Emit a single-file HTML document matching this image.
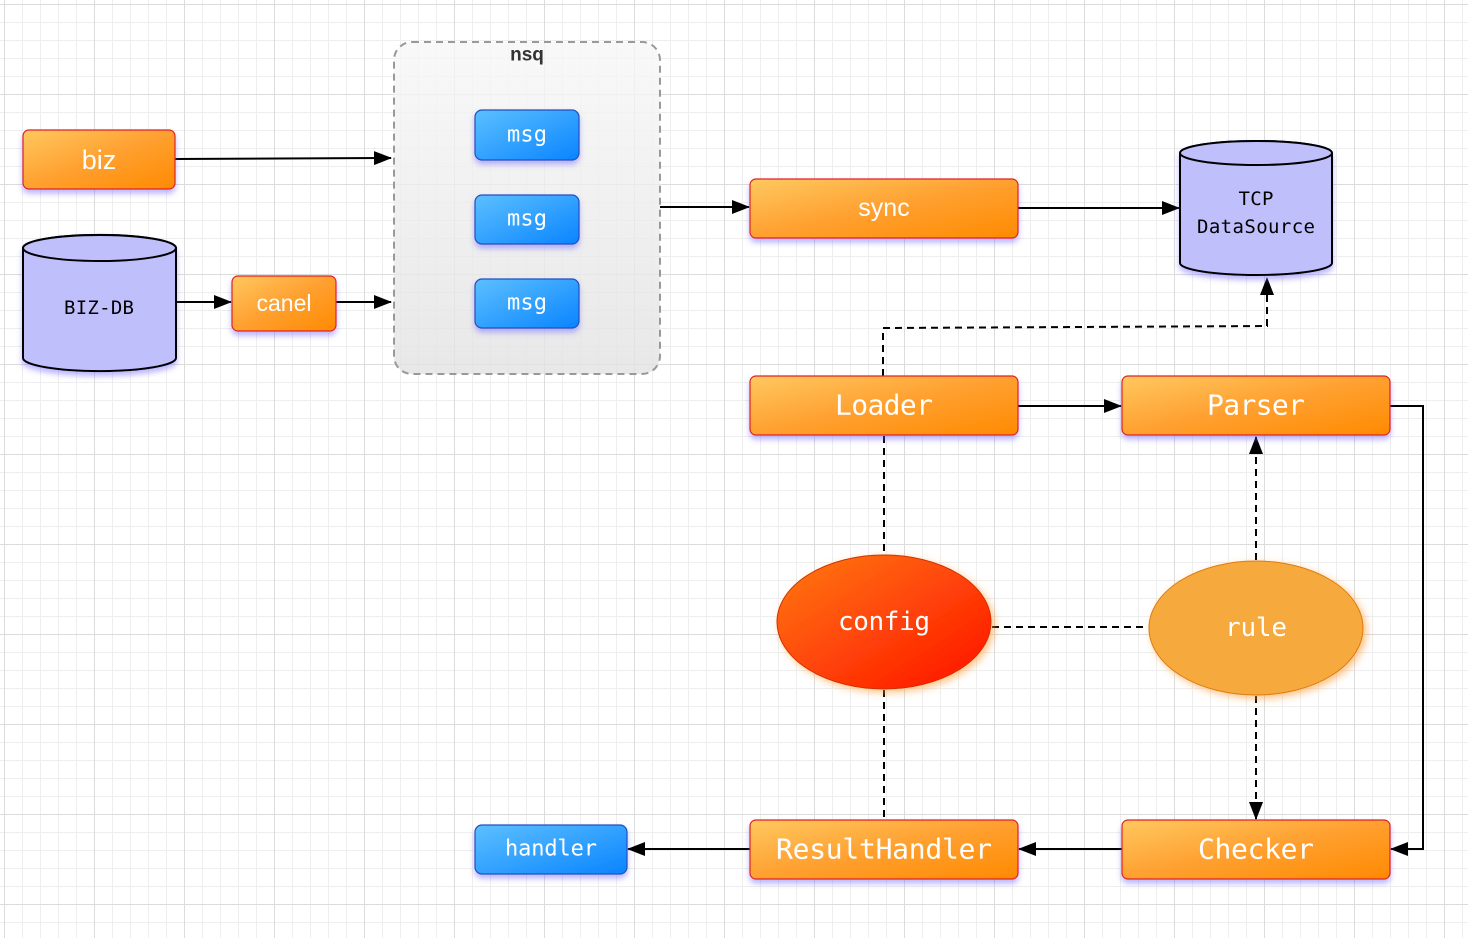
<!DOCTYPE html>
<html><head><meta charset="utf-8"><style>
html,body{margin:0;padding:0;}
body{width:1468px;height:938px;overflow:hidden;background:#fff;
background-image:linear-gradient(#dcdcdc 1px,transparent 1px),linear-gradient(90deg,#dcdcdc 1px,transparent 1px),linear-gradient(#eeeeee 1px,transparent 1px),linear-gradient(90deg,#eeeeee 1px,transparent 1px);
background-size:90px 90px,90px 90px,18px 18px,18px 18px;background-position:4px 4px;}
svg{position:absolute;left:0;top:0;}
.m{font-family:"DejaVu Sans Mono",monospace;fill:#fff;text-anchor:middle;dominant-baseline:central;}
.s{font-family:"Liberation Sans",sans-serif;fill:#fff;text-anchor:middle;dominant-baseline:central;}
</style></head><body>
<svg width="1468" height="938" viewBox="0 0 1468 938">
<defs>
<linearGradient id="og" x1="0" y1="0" x2="1" y2="1"><stop offset="0" stop-color="#ffc860"/><stop offset="0.5" stop-color="#ffa030"/><stop offset="1" stop-color="#ff8a00"/></linearGradient>
<linearGradient id="bg" x1="0" y1="0" x2="1" y2="1"><stop offset="0" stop-color="#5cc0ff"/><stop offset="1" stop-color="#0a84ff"/></linearGradient>
<linearGradient id="rg" x1="0" y1="0" x2="1" y2="1"><stop offset="0" stop-color="#ff7a10"/><stop offset="1" stop-color="#ff1000"/></linearGradient>
<linearGradient id="ng" x1="0" y1="0" x2="0" y2="1"><stop offset="0" stop-color="#f7f7f7" stop-opacity=".8"/><stop offset="1" stop-color="#e2e2e2" stop-opacity=".8"/></linearGradient>
<filter id="sh" x="-20%" y="-20%" width="140%" height="150%"><feDropShadow dx="0" dy="4" stdDeviation="3" flood-color="#6a5cff" flood-opacity=".45"/></filter>
<filter id="gl" x="-20%" y="-20%" width="140%" height="140%"><feDropShadow dx="3" dy="3" stdDeviation="4" flood-color="#ff9a30" flood-opacity=".6"/></filter>
<marker id="a" markerWidth="18" markerHeight="14" refX="17" refY="7" orient="auto" markerUnits="userSpaceOnUse"><path d="M0,0 L18,7 L0,14 z" fill="#000"/></marker>
</defs>
<rect x="394" y="42" width="266" height="332" rx="18" fill="url(#ng)" stroke="#999" stroke-width="2" stroke-dasharray="7,5"/>
<text x="527" y="55" font-family="Liberation Sans,sans-serif" font-weight="bold" font-size="19" fill="#333" text-anchor="middle" dominant-baseline="central">nsq</text>
<g stroke="#000" stroke-width="2" fill="none">
<line x1="175" y1="159" x2="391" y2="158" marker-end="url(#a)"/>
<line x1="176" y1="302" x2="231" y2="302" marker-end="url(#a)"/>
<line x1="336" y1="302" x2="391" y2="302" marker-end="url(#a)"/>
<line x1="660" y1="207" x2="749" y2="207" marker-end="url(#a)"/>
<line x1="1018" y1="208" x2="1179" y2="208" marker-end="url(#a)"/>
<line x1="1018" y1="406" x2="1121" y2="406" marker-end="url(#a)"/>
<polyline points="1390,406 1423,406 1423,849 1391,849" marker-end="url(#a)"/>
<line x1="1122" y1="849" x2="1019" y2="849" marker-end="url(#a)"/>
<line x1="750" y1="849" x2="628" y2="849" marker-end="url(#a)"/>
</g>
<g stroke="#000" stroke-width="2" fill="none" stroke-dasharray="7,5">
<polyline points="883,376 883,328 1267,326 1267,278" marker-end="url(#a)"/>
<line x1="884" y1="436" x2="884" y2="555"/>
<line x1="884" y1="690" x2="884" y2="820"/>
<line x1="992" y1="627" x2="1148" y2="627"/>
<line x1="1256" y1="560" x2="1256" y2="437" marker-end="url(#a)"/>
<line x1="1256" y1="696" x2="1256" y2="819" marker-end="url(#a)"/>
</g>
<g filter="url(#sh)" stroke="#e02020" stroke-width="1.2" fill="url(#og)">
<rect x="23" y="130" width="152" height="59" rx="6"/>
<rect x="232" y="276" width="104" height="55" rx="6"/>
<rect x="750" y="179" width="268" height="59" rx="6"/>
<rect x="750" y="376" width="268" height="59" rx="6"/>
<rect x="1122" y="376" width="268" height="59" rx="6"/>
<rect x="750" y="820" width="268" height="59" rx="6"/>
<rect x="1122" y="820" width="268" height="59" rx="6"/>
</g>
<g filter="url(#sh)" stroke="#2050c0" stroke-width="1.2" fill="url(#bg)">
<rect x="475" y="110" width="104" height="50" rx="7"/>
<rect x="475" y="195" width="104" height="49" rx="7"/>
<rect x="475" y="279" width="104" height="49" rx="7"/>
<rect x="475" y="825" width="152" height="49" rx="7"/>
</g>
<g stroke="#000" stroke-width="2" fill="#bfbffb" filter="url(#sh)">
<path d="M23,248 L23,358 A76,13 0 0 0 176,358 L176,248 A76,13 0 0 0 23,248 Z"/>
<ellipse cx="99.5" cy="248" rx="76.5" ry="13"/>
<path d="M1180,153 L1180,263 A76,12 0 0 0 1332,263 L1332,153 A76,12 0 0 0 1180,153 Z"/>
<ellipse cx="1256" cy="153" rx="76" ry="12"/>
</g>
<ellipse cx="884" cy="622" rx="107" ry="67" fill="url(#rg)" stroke="#d03000" stroke-width="1" filter="url(#gl)"/>
<ellipse cx="1256" cy="628" rx="107" ry="67" fill="#f6aa3c" stroke="#e07a10" stroke-width="1" filter="url(#gl)"/>
<text class="s" x="99" y="160" font-size="27">biz</text>
<text class="s" x="284" y="303" font-size="23">canel</text>
<text class="s" x="884" y="208" font-size="25">sync</text>
<text class="m" x="527" y="135" font-size="22" textLength="40">msg</text>
<text class="m" x="527" y="219" font-size="22" textLength="40">msg</text>
<text class="m" x="527" y="303" font-size="22" textLength="40">msg</text>
<text class="m" x="551" y="849" font-size="22" textLength="92">handler</text>
<text class="m" x="884" y="405" font-size="28" textLength="98">Loader</text>
<text class="m" x="1256" y="405" font-size="28" textLength="98">Parser</text>
<text class="m" x="884" y="849" font-size="28" textLength="216">ResultHandler</text>
<text class="m" x="1256" y="849" font-size="28" textLength="116">Checker</text>
<text class="m" x="884" y="622" font-size="26" textLength="92">config</text>
<text class="m" x="1256" y="628" font-size="26" textLength="62">rule</text>
<text class="m" x="99" y="308" font-size="19" style="fill:#000" textLength="70">BIZ-DB</text>
<text class="m" x="1256" y="199" font-size="19" style="fill:#000" textLength="35">TCP</text>
<text class="m" x="1256" y="227" font-size="19" style="fill:#000" textLength="118">DataSource</text>
</svg>
</body></html>
